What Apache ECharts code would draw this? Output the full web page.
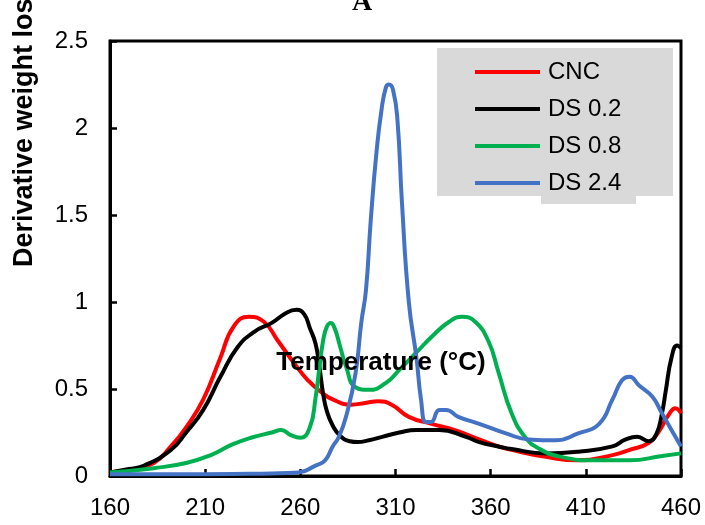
<!DOCTYPE html>
<html>
<head>
<meta charset="utf-8">
<script src="https://cdn.jsdelivr.net/npm/echarts@6/dist/echarts.min.js"></script>
<style>html,body{margin:0;padding:0;background:#fff;}#c{width:705px;height:525px;}</style>
</head>
<body>
<div id="c"></div>
<script>
var xTicks = [160, 210, 260, 310, 360, 410, 460];
var yTicks = [0, 0.5, 1, 1.5, 2, 2.5];
var seriesNames = ['CNC', 'DS 0.2', 'DS 0.8', 'DS 2.4'];

var cncT = [160, 172, 183, 192, 200, 209, 218, 225, 233, 241, 248, 258, 264, 270, 277, 287, 294, 301, 308, 317, 329, 342, 354, 364, 371, 389, 406, 424, 433, 443, 448, 454, 457, 460];
var cncV = [0.02, 0.04, 0.075, 0.17, 0.28, 0.44, 0.68, 0.86, 0.915, 0.885, 0.78, 0.63, 0.55, 0.49, 0.44, 0.41, 0.42, 0.43, 0.41, 0.34, 0.30, 0.26, 0.21, 0.17, 0.15, 0.11, 0.09, 0.12, 0.15, 0.19, 0.25, 0.36, 0.39, 0.36];

var ds02T = [160, 170, 178, 192, 200, 209, 218, 227, 236, 245, 253, 258, 262, 265, 268, 270, 272, 274, 277, 281, 286, 290, 296, 303, 312, 321, 333, 347, 354, 364, 371, 389, 406, 424, 431, 437, 443, 447, 450, 452, 455, 458, 460];
var ds02V = [0.02, 0.04, 0.06, 0.15, 0.25, 0.38, 0.57, 0.74, 0.83, 0.88, 0.94, 0.955, 0.93, 0.85, 0.76, 0.63, 0.47, 0.37, 0.29, 0.23, 0.20, 0.195, 0.205, 0.225, 0.25, 0.265, 0.265, 0.225, 0.195, 0.17, 0.155, 0.13, 0.14, 0.17, 0.21, 0.225, 0.20, 0.24, 0.36, 0.49, 0.68, 0.75, 0.735];

var ds08T = [160, 183, 200, 213, 224, 234, 245, 250, 255, 260, 265, 268, 270, 272, 274, 276, 278, 281, 284, 289, 296, 305, 312, 321, 329, 338, 345, 352, 359, 364, 371, 378, 385, 397, 415, 433, 450, 460];
var ds08V = [0.02, 0.045, 0.075, 0.12, 0.18, 0.22, 0.25, 0.265, 0.235, 0.22, 0.28, 0.45, 0.62, 0.78, 0.86, 0.88, 0.85, 0.74, 0.63, 0.51, 0.495, 0.535, 0.61, 0.71, 0.80, 0.885, 0.915, 0.885, 0.77, 0.60, 0.36, 0.225, 0.16, 0.11, 0.09, 0.09, 0.115, 0.13];

var ds24T = [160, 200, 245, 259, 268, 273, 277, 280, 284, 289, 292, 294.5, 297, 300, 302.6, 305, 306.6, 308.7, 311, 313.4, 317, 321, 323.4, 326, 328.6, 333, 336.5, 343, 354, 368, 380, 394, 406, 417, 424, 429, 433, 438, 445, 450, 455, 460];
var ds24V = [0.01, 0.01, 0.015, 0.02, 0.06, 0.09, 0.17, 0.22, 0.34, 0.59, 0.88, 1.07, 1.47, 1.86, 2.10, 2.235, 2.25, 2.22, 2.05, 1.57, 1.0, 0.68, 0.44, 0.31, 0.31, 0.38, 0.38, 0.34, 0.30, 0.245, 0.21, 0.205, 0.245, 0.30, 0.44, 0.55, 0.57, 0.52, 0.455, 0.36, 0.265, 0.17];

var colors = ['#ff0000', '#000000', '#00b050', '#4472c4'];

function pairs(t, v) { return t.map(function (x, i) { return [x, v[i]]; }); }
var allData = [pairs(cncT, cncV), pairs(ds02T, ds02V), pairs(ds08T, ds08V), pairs(ds24T, ds24V)];

var FONT = '"Liberation Sans", Arial, sans-serif';
var chart = echarts.init(document.getElementById('c'), null, { renderer: 'canvas' });
chart.setOption({
  animation: false,
  backgroundColor: '#ffffff',
  grid: { left: 110, right: 24, top: 41, bottom: 49, show: true, borderColor: '#000', borderWidth: 3, backgroundColor: 'transparent' },
  xAxis: {
    type: 'value', min: xTicks[0], max: xTicks[xTicks.length - 1], interval: 50,
    axisLine: { show: true, lineStyle: { color: '#000', width: 3 } },
    axisTick: { show: true, inside: true, length: 7, lineStyle: { color: '#000', width: 2.5 } },
    axisLabel: { color: '#000', fontSize: 24, fontFamily: FONT, margin: 20 },
    splitLine: { show: false }
  },
  yAxis: {
    type: 'value', min: yTicks[0], max: yTicks[yTicks.length - 1], interval: 0.5,
    axisLine: { show: true, lineStyle: { color: '#000', width: 3 } },
    axisTick: { show: true, inside: true, length: 7, lineStyle: { color: '#000', width: 2.5 } },
    axisLabel: { color: '#000', fontSize: 24, fontFamily: FONT, margin: 22 },
    splitLine: { show: false }
  },
  legend: {
    orient: 'vertical', left: 475, top: 60, padding: 0,
    itemWidth: 65, itemHeight: 4, itemGap: 13, icon: 'rect',
    itemStyle: { borderWidth: 0 },
    textStyle: { color: '#000', fontSize: 24, lineHeight: 24, fontFamily: FONT, padding: [0, 0, 0, 3] },
    data: seriesNames
  },
  graphic: [
    { type: 'rect', z: 1, shape: { x: 437, y: 48, width: 236, height: 148 }, style: { fill: '#d9d9d9' } },
    { type: 'rect', z: 1, shape: { x: 541, y: 195, width: 95, height: 9 }, style: { fill: '#d9d9d9' } },
    { type: 'text', z: 100, x: 362, y: 3, style: { text: 'A', font: 'bold 28px "Liberation Serif", "Times New Roman", serif', fill: '#000', textAlign: 'center', textVerticalAlign: 'middle', verticalAlign: 'middle' } },
    { type: 'text', z: 100, x: 381, y: 363, style: { text: 'Temperature (°C)', font: 'bold 26px ' + FONT, fill: '#000', textAlign: 'center', textVerticalAlign: 'middle', verticalAlign: 'middle' } },
    { type: 'text', z: 100, x: 25, y: 267, rotation: Math.PI / 2, style: { text: 'Derivative weight loss (%/°C)', font: 'bold 27px ' + FONT, fill: '#000', textAlign: 'left', textVerticalAlign: 'middle', verticalAlign: 'middle' } }
  ],
  series: seriesNames.map(function (n, i) {
    return {
      name: n, type: 'line', data: allData[i], smooth: 0.5, showSymbol: false, symbol: 'none',
      color: colors[i], lineStyle: { color: colors[i], width: 4 }, itemStyle: { color: colors[i] }, z: 2 + i
    };
  })
});
</script>
</body>
</html>
